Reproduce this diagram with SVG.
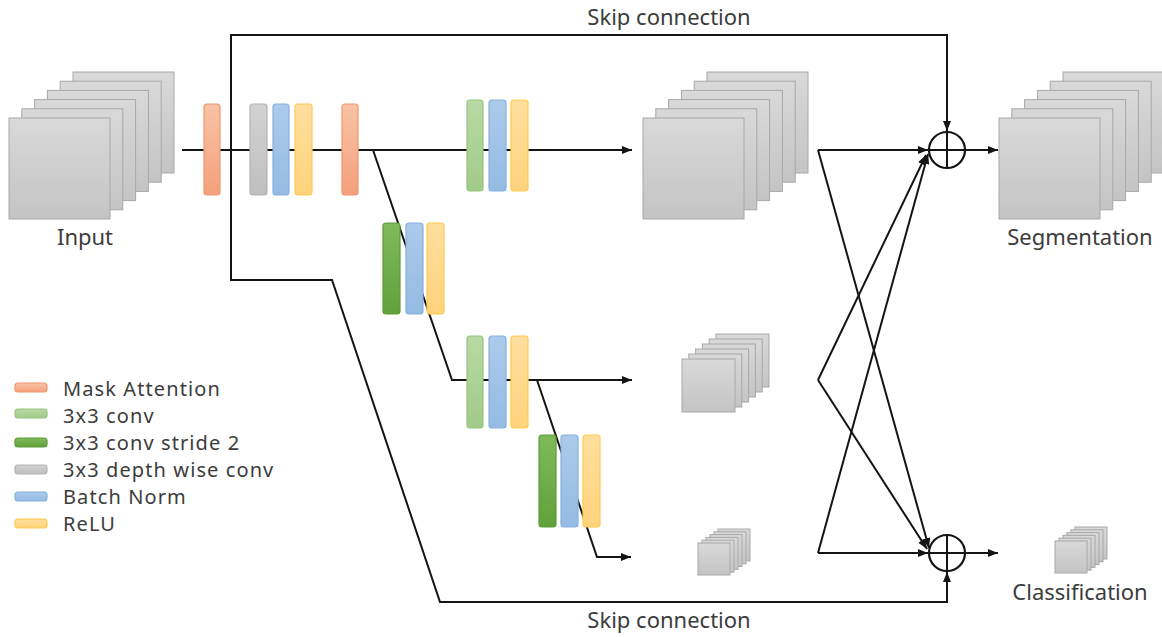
<svg xmlns="http://www.w3.org/2000/svg" xmlns:xlink="http://www.w3.org/1999/xlink" width="1162" height="637" viewBox="0 0 1162 637">
  <style>
    .lbl { font-family: "Noto Sans", "DejaVu Sans", sans-serif; font-size: 22px; fill: #3c3c3c; }
    .leg { font-family: "Noto Sans", "DejaVu Sans", sans-serif; font-size: 20px; letter-spacing: 1.1px; fill: #3c3c3c; }
    .wire { fill: none; stroke: #141414; stroke-width: 2; stroke-linejoin: miter; }
    .fmap { fill: url(#gFmap); stroke: #a8a8a8; stroke-width: 1; }
    .bar { stroke-width: 1.2; }
    .ma { fill: url(#gOrange); stroke: #f2966e; }
    .cv { fill: url(#gLGreen); stroke: #95c47c; }
    .cs { fill: url(#gDGreen); stroke: #5d9c38; }
    .dw { fill: url(#gGray); stroke: #b4b4b4; }
    .bn { fill: url(#gBlue); stroke: #85b0de; }
    .re { fill: url(#gYellow); stroke: #ffca50; }
    .sum { fill: #ffffff; stroke: #141414; stroke-width: 2.2; }
  </style>
  <defs>
    <linearGradient id="gFmap" x1="0" y1="0" x2="0" y2="1">
      <stop offset="0" stop-color="#d9d9d9"/>
      <stop offset="1" stop-color="#c4c4c4"/>
    </linearGradient>
    <linearGradient id="gOrange" x1="0" y1="0" x2="0" y2="1">
      <stop offset="0" stop-color="#f8c3a6"/>
      <stop offset="1" stop-color="#f4a07b"/>
    </linearGradient>
    <linearGradient id="gLGreen" x1="0" y1="0" x2="0" y2="1">
      <stop offset="0" stop-color="#b8d9a4"/>
      <stop offset="1" stop-color="#a1cb89"/>
    </linearGradient>
    <linearGradient id="gDGreen" x1="0" y1="0" x2="0" y2="1">
      <stop offset="0" stop-color="#80ba5b"/>
      <stop offset="1" stop-color="#60a13b"/>
    </linearGradient>
    <linearGradient id="gGray" x1="0" y1="0" x2="0" y2="1">
      <stop offset="0" stop-color="#d2d2d2"/>
      <stop offset="1" stop-color="#bfbfbf"/>
    </linearGradient>
    <linearGradient id="gBlue" x1="0" y1="0" x2="0" y2="1">
      <stop offset="0" stop-color="#accbeb"/>
      <stop offset="1" stop-color="#94bbe3"/>
    </linearGradient>
    <linearGradient id="gYellow" x1="0" y1="0" x2="0" y2="1">
      <stop offset="0" stop-color="#ffdf9e"/>
      <stop offset="1" stop-color="#ffd37c"/>
    </linearGradient>
    <marker id="arr" viewBox="0 0 10 8" refX="10" refY="4" markerWidth="10" markerHeight="8" markerUnits="userSpaceOnUse" orient="auto">
      <path d="M0,0 L10,4 L0,8 z" fill="#141414"/>
    </marker>
    <!-- stacks of feature maps, drawn back to front, origin = front sheet top-left -->
    <g id="stackL">
      <rect class="fmap" x="64" y="-46" width="101" height="101"/>
      <rect class="fmap" x="51.2" y="-36.8" width="101" height="101"/>
      <rect class="fmap" x="38.4" y="-27.6" width="101" height="101"/>
      <rect class="fmap" x="25.6" y="-18.4" width="101" height="101"/>
      <rect class="fmap" x="12.8" y="-9.2" width="101" height="101"/>
      <rect class="fmap" x="0" y="0" width="101" height="101"/>
    </g>
    <g id="stackM">
      <rect class="fmap" x="34" y="-25" width="53" height="53"/>
      <rect class="fmap" x="27.2" y="-20" width="53" height="53"/>
      <rect class="fmap" x="20.4" y="-15" width="53" height="53"/>
      <rect class="fmap" x="13.6" y="-10" width="53" height="53"/>
      <rect class="fmap" x="6.8" y="-5" width="53" height="53"/>
      <rect class="fmap" x="0" y="0" width="53" height="53"/>
    </g>
    <g id="stackS">
      <rect class="fmap" x="20" y="-14" width="32" height="32"/>
      <rect class="fmap" x="16" y="-11.2" width="32" height="32"/>
      <rect class="fmap" x="12" y="-8.4" width="32" height="32"/>
      <rect class="fmap" x="8" y="-5.6" width="32" height="32"/>
      <rect class="fmap" x="4" y="-2.8" width="32" height="32"/>
      <rect class="fmap" x="0" y="0" width="32" height="32"/>
    </g>
  </defs>

  <rect x="0" y="0" width="1162" height="637" fill="#ffffff"/>

  <!-- feature maps -->
  <g id="input">
    <use xlink:href="#stackL" x="9" y="118"/>
    <text class="lbl" x="85" y="245" text-anchor="middle">Input</text>
  </g>
  <g id="feat-full">
    <use xlink:href="#stackL" x="643" y="118"/>
  </g>
  <g id="feat-half">
    <use xlink:href="#stackM" x="682" y="359"/>
  </g>
  <g id="feat-quarter">
    <use xlink:href="#stackS" x="698" y="543"/>
  </g>
  <g id="segmentation">
    <use xlink:href="#stackL" x="999" y="118"/>
    <text class="lbl" x="1080" y="245" text-anchor="middle">Segmentation</text>
  </g>
  <g id="classification">
    <use xlink:href="#stackS" x="1055" y="541"/>
    <text class="lbl" x="1080" y="600" text-anchor="middle">Classification</text>
  </g>

  <!-- connectors -->
  <g id="connectors">
    <path class="wire" d="M182,150 H632" marker-end="url(#arr)"/>
    <path class="wire" d="M231,150 V35 H947 V131" marker-end="url(#arr)"/>
    <path class="wire" d="M231,150 V280 H332 L440,602 H947 V572" marker-end="url(#arr)"/>
    <path class="wire" d="M373,150 L452,380 H632" marker-end="url(#arr)"/>
    <path class="wire" d="M537,380 L597,557 H631" marker-end="url(#arr)"/>
    <path class="wire" d="M818,150 H928" marker-end="url(#arr)"/>
    <path class="wire" d="M818,150 L929,548" marker-end="url(#arr)"/>
    <path class="wire" d="M818,380 L926,155" marker-end="url(#arr)"/>
    <path class="wire" d="M818,380 L927,549" marker-end="url(#arr)"/>
    <path class="wire" d="M818,553 H928" marker-end="url(#arr)"/>
    <path class="wire" d="M818,553 L928,154" marker-end="url(#arr)"/>
    <path class="wire" d="M965,150 H998" marker-end="url(#arr)"/>
    <path class="wire" d="M965,553 H998" marker-end="url(#arr)"/>
    <text class="lbl" x="669" y="25" text-anchor="middle">Skip connection</text>
    <text class="lbl" x="669" y="628" text-anchor="middle">Skip connection</text>
  </g>

  <!-- element-wise sums -->
  <g id="sum-seg">
    <circle class="sum" cx="947" cy="150" r="18"/>
    <path class="wire" d="M929,150 H965 M947,132 V168"/>
  </g>
  <g id="sum-cls">
    <circle class="sum" cx="947" cy="553" r="18"/>
    <path class="wire" d="M929,553 H965 M947,535 V571"/>
  </g>

  <!-- layer blocks -->
  <g id="mask-attn-1" class="bar"><rect class="ma" x="204" y="104" width="16" height="91" rx="3"/></g>
  <g id="dw-block" class="bar">
    <rect class="dw" x="250" y="104" width="17" height="91" rx="3"/>
    <rect class="bn" x="273" y="104" width="16" height="91" rx="3"/>
    <rect class="re" x="295" y="104" width="17" height="91" rx="3"/>
  </g>
  <g id="mask-attn-2" class="bar"><rect class="ma" x="342" y="104" width="16" height="91" rx="3"/></g>
  <g id="conv-full" class="bar">
    <rect class="cv" x="467" y="100" width="16" height="91" rx="3"/>
    <rect class="bn" x="489" y="100" width="17" height="91" rx="3"/>
    <rect class="re" x="511" y="100" width="17" height="91" rx="3"/>
  </g>
  <g id="down-1" class="bar">
    <rect class="cs" x="383" y="223" width="17" height="91" rx="3"/>
    <rect class="bn" x="406" y="223" width="17" height="91" rx="3"/>
    <rect class="re" x="427" y="223" width="17" height="91" rx="3"/>
  </g>
  <g id="conv-half" class="bar">
    <rect class="cv" x="467" y="336" width="16" height="92" rx="3"/>
    <rect class="bn" x="489" y="336" width="17" height="92" rx="3"/>
    <rect class="re" x="511" y="336" width="17" height="92" rx="3"/>
  </g>
  <g id="down-2" class="bar">
    <rect class="cs" x="539" y="435" width="17" height="92" rx="3"/>
    <rect class="bn" x="561" y="435" width="17" height="92" rx="3"/>
    <rect class="re" x="583" y="435" width="17" height="92" rx="3"/>
  </g>

  <!-- legend -->
  <g id="legend" class="bar">
    <rect class="ma" x="15" y="383" width="32" height="9" rx="3"/>
    <text class="leg" x="63" y="396">Mask Attention</text>
    <rect class="cv" x="15" y="409" width="32" height="9" rx="3"/>
    <text class="leg" x="63" y="423">3x3 conv</text>
    <rect class="cs" x="15" y="438" width="32" height="9" rx="3"/>
    <text class="leg" x="63" y="450">3x3 conv stride 2</text>
    <rect class="dw" x="15" y="465" width="32" height="9" rx="3"/>
    <text class="leg" x="63" y="477">3x3 depth wise conv</text>
    <rect class="bn" x="15" y="492" width="32" height="9" rx="3"/>
    <text class="leg" x="63" y="504">Batch Norm</text>
    <rect class="re" x="15" y="519" width="32" height="9" rx="3"/>
    <text class="leg" x="63" y="531">ReLU</text>
  </g>
</svg>
